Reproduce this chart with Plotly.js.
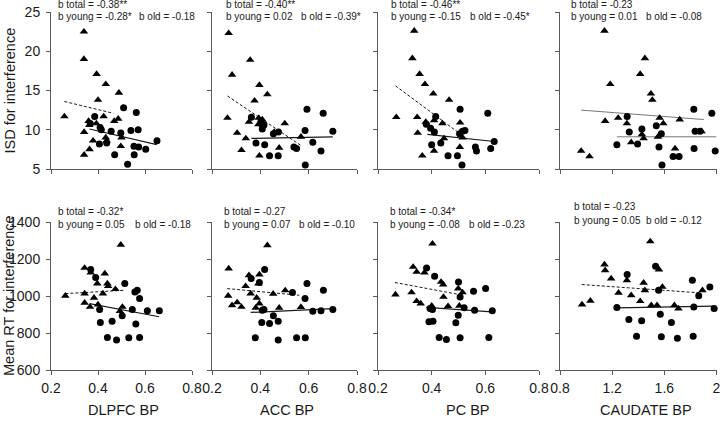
<!DOCTYPE html>
<html><head><meta charset="utf-8">
<script src="https://cdn.plot.ly/plotly-3.0.1.min.js"></script>
<style>html,body{margin:0;padding:0;background:#fff}</style>
</head><body><div id="chart" style="width:720px;height:430px"></div>
<script>
// ---------- categories / tick labels ----------
const regionLabels = ['DLPFC BP', 'ACC BP', 'PC BP', 'CAUDATE BP'];
const xRanges = [[0.2, 0.8], [0.2, 0.8], [0.2, 0.8], [0.8, 2.0]];
const xTickVals = [[0.2, 0.4, 0.6, 0.8], [0.2, 0.4, 0.6, 0.8], [0.2, 0.4, 0.6, 0.8], [0.8, 1.2, 1.6, 2.0]];
const xTickText = [['0.2', '0.4', '0.6', '0.8'], ['0.2', '0.4', '0.6', '0.8'], ['0.2', '0.4', '0.6', '0.8'], ['0.8', '1.2', '1.6', '2']];
const isdTicks = [5, 10, 15, 20, 25];
const rtTicks = [600, 800, 1000, 1200, 1400];
const rowTitles = ['ISD for interference', 'Mean RT for interference'];

// ---------- regression statistics ----------
const isdBTotal = ['-0.38**', '-0.40**', '-0.46**', '-0.23'];
const isdBYoung = ['-0.28*', '0.02', '-0.15', '0.01'];
const isdBOld = ['-0.18', '-0.39*', '-0.45*', '-0.08'];
const rtBTotal = ['-0.32*', '-0.27', '-0.34*', '-0.23'];
const rtBYoung = ['0.05', '0.07', '-0.08', '0.05'];
const rtBOld = ['-0.18', '-0.10', '-0.23', '-0.12'];

// ---------- ISD: DLPFC ----------
const isdDlpfcYoungX = [0.34, 0.34, 0.394, 0.433, 0.40, 0.489, 0.257, 0.424, 0.486, 0.36, 0.469, 0.393, 0.363, 0.341, 0.50, 0.379, 0.433, 0.437, 0.497, 0.364, 0.341];
const isdDlpfcYoungY = [22.5, 19.0, 17.1, 15.8, 13.8, 14.7, 11.7, 11.7, 11.4, 11.1, 11.1, 10.8, 10.6, 9.7, 9.0, 8.6, 9.0, 8.6, 7.9, 7.5, 6.8];
const isdDlpfcOldX = [0.386, 0.367, 0.409, 0.414, 0.456, 0.437, 0.406, 0.509, 0.563, 0.497, 0.54, 0.571, 0.553, 0.573, 0.554, 0.603, 0.651, 0.471, 0.526];
const isdDlpfcOldY = [11.7, 10.8, 10.3, 10.0, 9.8, 8.3, 8.2, 12.8, 12.2, 9.6, 9.9, 10.0, 7.9, 7.8, 6.8, 7.5, 8.6, 6.8, 5.6];
const isdDlpfcFitYoungX = [0.257, 0.465]; const isdDlpfcFitYoungY = [13.6, 12.1];
const isdDlpfcFitOldX = [0.364, 0.65]; const isdDlpfcFitOldY = [10.1, 8.1];

// ---------- ISD: ACC ----------
const isdAccYoungX = [0.269, 0.358, 0.283, 0.396, 0.429, 0.376, 0.264, 0.393, 0.408, 0.353, 0.392, 0.501, 0.304, 0.340, 0.322, 0.396, 0.478, 0.568, 0.41, 0.457];
const isdAccYoungY = [22.3, 18.9, 17.0, 15.7, 14.5, 13.7, 11.5, 11.5, 11.3, 11.0, 10.7, 10.8, 9.6, 8.9, 7.4, 6.7, 7.7, 9.1, 10.6, 9.7];
const isdAccOldX = [0.363, 0.403, 0.415, 0.408, 0.454, 0.475, 0.382, 0.418, 0.438, 0.474, 0.539, 0.55, 0.593, 0.585, 0.617, 0.66, 0.70, 0.651, 0.586];
const isdAccOldY = [11.6, 11.1, 10.6, 10.1, 9.5, 9.7, 8.3, 8.1, 6.7, 6.7, 7.8, 7.6, 12.6, 9.9, 8.4, 12.1, 9.8, 7.3, 5.5];
const isdAccFitYoungX = [0.264, 0.568]; const isdAccFitYoungY = [14.3, 8.0];
const isdAccFitOldX = [0.363, 0.70]; const isdAccFitOldY = [8.9, 9.1];

// ---------- ISD: PC ----------
const isdPcYoungX = [0.335, 0.328, 0.355, 0.375, 0.406, 0.465, 0.268, 0.346, 0.409, 0.378, 0.44, 0.506, 0.348, 0.446, 0.515, 0.505, 0.409, 0.365];
const isdPcYoungY = [22.6, 19.1, 17.1, 15.8, 14.6, 13.8, 11.6, 11.6, 11.2, 11.0, 10.8, 10.9, 9.6, 8.9, 9.0, 7.8, 7.3, 6.7];
const isdPcOldX = [0.415, 0.38, 0.396, 0.41, 0.506, 0.609, 0.524, 0.515, 0.504, 0.434, 0.40, 0.461, 0.496, 0.513, 0.563, 0.567, 0.62, 0.633];
const isdPcOldY = [11.7, 10.7, 10.2, 9.7, 12.6, 12.1, 9.9, 9.8, 9.5, 8.3, 8.1, 6.7, 6.7, 5.5, 7.8, 7.3, 7.6, 8.5];
const isdPcFitYoungX = [0.265, 0.509]; const isdPcFitYoungY = [15.6, 9.4];
const isdPcFitOldX = [0.384, 0.633]; const isdPcFitOldY = [9.4, 8.5];

// ---------- ISD: CAUDATE ----------
const isdCauYoungX = [1.141, 1.451, 1.415, 1.185, 1.497, 1.508, 1.146, 1.246, 1.313, 1.564, 1.592, 1.718, 1.428, 1.551, 1.441, 1.346, 1.682, 0.962, 1.026, 1.885];
const isdCauYoungY = [22.6, 19.1, 17.1, 15.8, 14.6, 13.8, 11.1, 11.5, 10.8, 11.5, 10.8, 11.3, 9.4, 9.1, 8.9, 8.4, 7.6, 7.3, 6.6, 9.8];
const isdCauOldX = [1.315, 1.331, 1.428, 1.538, 1.577, 1.236, 1.395, 1.559, 1.582, 1.667, 1.713, 1.826, 1.964, 1.836, 1.874, 1.828, 1.99];
const isdCauOldY = [11.7, 9.7, 10.1, 10.5, 9.5, 8.1, 8.2, 7.8, 5.5, 6.6, 6.6, 12.6, 12.1, 9.8, 9.8, 7.6, 7.3];
const isdCauFitYoungX = [0.962, 1.903]; const isdCauFitYoungY = [12.5, 11.3];
const isdCauFitOldX = [1.236, 2.0]; const isdCauFitOldY = [9.1, 9.1];

// ---------- RT: DLPFC ----------
const rtDlpfcYoungX = [0.497, 0.343, 0.369, 0.429, 0.397, 0.44, 0.443, 0.474, 0.261, 0.343, 0.421, 0.383, 0.343, 0.366, 0.40, 0.493, 0.504];
const rtDlpfcYoungY = [1277, 1152, 1127, 1121, 1067, 1067, 1053, 1037, 1001, 1013, 1013, 990, 963, 941, 954, 918, 941];
const rtDlpfcOldX = [0.369, 0.39, 0.514, 0.567, 0.557, 0.577, 0.407, 0.546, 0.61, 0.661, 0.503, 0.41, 0.46, 0.561, 0.44, 0.479, 0.531, 0.577];
const rtDlpfcOldY = [1143, 1100, 1067, 1031, 1022, 986, 927, 927, 920, 920, 893, 857, 864, 848, 776, 762, 774, 776];
const rtDlpfcFitYoungX = [0.261, 0.514]; const rtDlpfcFitYoungY = [1013, 1031];
const rtDlpfcFitOldX = [0.364, 0.66]; const rtDlpfcFitOldY = [959, 888];

// ---------- RT: ACC ----------
const rtAccYoungX = [0.429, 0.269, 0.353, 0.396, 0.392, 0.339, 0.267, 0.36, 0.385, 0.453, 0.503, 0.283, 0.304, 0.322, 0.381, 0.396, 0.478, 0.568];
const rtAccYoungY = [1274, 1148, 1112, 1116, 1067, 1053, 1001, 1013, 990, 1012, 1030, 950, 965, 941, 936, 959, 936, 940];
const rtAccOldX = [0.418, 0.362, 0.396, 0.593, 0.533, 0.585, 0.661, 0.408, 0.415, 0.617, 0.651, 0.70, 0.454, 0.406, 0.438, 0.474, 0.379, 0.474, 0.55, 0.586];
const rtAccOldY = [1143, 1094, 1073, 1067, 1019, 986, 1031, 923, 927, 918, 920, 927, 893, 857, 852, 864, 774, 762, 774, 774];
const rtAccFitYoungX = [0.263, 0.561]; const rtAccFitYoungY = [1040, 1004];
const rtAccFitOldX = [0.36, 0.70]; const rtAccFitOldY = [911, 932];

// ---------- RT: PC ----------
const rtPcYoungX = [0.403, 0.331, 0.344, 0.373, 0.435, 0.443, 0.499, 0.515, 0.265, 0.325, 0.444, 0.344, 0.359, 0.40, 0.461, 0.503];
const rtPcYoungY = [1283, 1157, 1130, 1127, 1076, 1062, 1040, 1019, 1008, 1019, 995, 972, 959, 947, 945, 947];
const rtPcOldX = [0.381, 0.411, 0.50, 0.556, 0.601, 0.506, 0.394, 0.403, 0.521, 0.56, 0.626, 0.499, 0.39, 0.405, 0.49, 0.428, 0.455, 0.506, 0.613];
const rtPcOldY = [1152, 1107, 1076, 1026, 1040, 994, 932, 927, 936, 923, 920, 896, 861, 864, 855, 776, 765, 774, 776];
const rtPcFitYoungX = [0.263, 0.503]; const rtPcFitYoungY = [1073, 1008];
const rtPcFitOldX = [0.38, 0.625]; const rtPcFitOldY = [938, 914];

// ---------- RT: CAUDATE ----------
const rtCauYoungX = [1.492, 1.141, 1.146, 1.192, 1.313, 1.441, 1.559, 1.585, 1.451, 1.249, 1.346, 1.892, 0.969, 1.033, 1.415, 1.5, 1.544, 1.677, 1.708];
const rtCauYoungY = [1295, 1170, 1139, 1094, 1085, 1071, 1143, 1049, 1031, 1017, 1004, 1031, 954, 974, 972, 950, 950, 950, 932];
const rtCauOldX = [1.533, 1.315, 1.556, 1.815, 1.949, 1.864, 1.236, 1.826, 1.982, 1.569, 1.328, 1.426, 1.654, 1.387, 1.577, 1.700, 1.821];
const rtCauOldY = [1161, 1116, 1031, 1085, 1049, 1001, 938, 941, 932, 902, 873, 866, 857, 783, 780, 771, 783];
const rtCauFitYoungX = [0.967, 1.872]; const rtCauFitYoungY = [1062, 1017];
const rtCauFitOldX = [1.231, 1.982]; const rtCauFitOldY = [936, 945];

// ---------- assemble ----------
const panels = [
  {yx: isdDlpfcYoungX, yy: isdDlpfcYoungY, ox: isdDlpfcOldX, oy: isdDlpfcOldY, fyx: isdDlpfcFitYoungX, fyy: isdDlpfcFitYoungY, fox: isdDlpfcFitOldX, foy: isdDlpfcFitOldY},
  {yx: isdAccYoungX, yy: isdAccYoungY, ox: isdAccOldX, oy: isdAccOldY, fyx: isdAccFitYoungX, fyy: isdAccFitYoungY, fox: isdAccFitOldX, foy: isdAccFitOldY},
  {yx: isdPcYoungX, yy: isdPcYoungY, ox: isdPcOldX, oy: isdPcOldY, fyx: isdPcFitYoungX, fyy: isdPcFitYoungY, fox: isdPcFitOldX, foy: isdPcFitOldY},
  {yx: isdCauYoungX, yy: isdCauYoungY, ox: isdCauOldX, oy: isdCauOldY, fyx: isdCauFitYoungX, fyy: isdCauFitYoungY, fox: isdCauFitOldX, foy: isdCauFitOldY},
  {yx: rtDlpfcYoungX, yy: rtDlpfcYoungY, ox: rtDlpfcOldX, oy: rtDlpfcOldY, fyx: rtDlpfcFitYoungX, fyy: rtDlpfcFitYoungY, fox: rtDlpfcFitOldX, foy: rtDlpfcFitOldY},
  {yx: rtAccYoungX, yy: rtAccYoungY, ox: rtAccOldX, oy: rtAccOldY, fyx: rtAccFitYoungX, fyy: rtAccFitYoungY, fox: rtAccFitOldX, foy: rtAccFitOldY},
  {yx: rtPcYoungX, yy: rtPcYoungY, ox: rtPcOldX, oy: rtPcOldY, fyx: rtPcFitYoungX, fyy: rtPcFitYoungY, fox: rtPcFitOldX, foy: rtPcFitOldY},
  {yx: rtCauYoungX, yy: rtCauYoungY, ox: rtCauOldX, oy: rtCauOldY, fyx: rtCauFitYoungX, fyy: rtCauFitYoungY, fox: rtCauFitOldX, foy: rtCauFitOldY}
];

const W = 720, H = 430;
const colPx = [[51, 192], [212, 357], [378, 539], [560, 716.5]];
const rowPx = [[12, 169], [222, 370]];
const FONT = 'Arial, "Liberation Sans", sans-serif';
const AXC = '#5a5a5a';

const traces = [];
const layout = {
  width: W, height: H, margin: {l: 0, r: 0, t: 0, b: 0},
  paper_bgcolor: '#fff', plot_bgcolor: '#fff', showlegend: false, hovermode: false,
  font: {family: FONT, size: 14, color: '#1a1a1a'},
  annotations: []
};

panels.forEach((p, i) => {
  const row = Math.floor(i / 4), col = i % 4, n = i + 1;
  const xa = 'x' + (n === 1 ? '' : n), ya = 'y' + (n === 1 ? '' : n);
  const caudTop = (row === 0 && col === 3);
  const fitColor = caudTop ? '#777' : '#1a1a1a';
  traces.push({x: p.fyx, y: p.fyy, xaxis: xa, yaxis: ya, mode: 'lines', type: 'scatter',
    line: {color: fitColor, width: 1, dash: caudTop ? 'solid' : '3px,2px'}, cliponaxis: false});
  traces.push({x: p.fox, y: p.foy, xaxis: xa, yaxis: ya, mode: 'lines', type: 'scatter',
    line: {color: fitColor, width: caudTop ? 1 : 1.2}, cliponaxis: false});
  traces.push({x: p.yx, y: p.yy, xaxis: xa, yaxis: ya, mode: 'markers', type: 'scatter', name: 'young',
    marker: {symbol: 'triangle-up', size: 7.5, color: '#000'}, cliponaxis: false});
  traces.push({x: p.ox, y: p.oy, xaxis: xa, yaxis: ya, mode: 'markers', type: 'scatter', name: 'old',
    marker: {symbol: 'circle', size: 7, color: '#000'}, cliponaxis: false});

  const axBase = {showgrid: false, zeroline: false, showline: true, linecolor: AXC, linewidth: 1,
    ticks: 'outside', ticklen: 4, tickcolor: AXC, tickwidth: 1, fixedrange: true,
    ticklabeloverflow: 'allow',
    tickfont: {family: FONT, size: 14, color: '#1a1a1a'}};
  layout['xaxis' + (n === 1 ? '' : n)] = Object.assign({}, axBase, {
    domain: [colPx[col][0] / W, colPx[col][1] / W], anchor: ya, range: xRanges[col],
    tickmode: 'array', tickvals: xTickVals[col], ticktext: xTickText[col],
    showticklabels: row === 1, ticklabelstandoff: 1
  });
  layout['yaxis' + (n === 1 ? '' : n)] = Object.assign({}, axBase, {
    domain: [1 - rowPx[row][1] / H, 1 - rowPx[row][0] / H], anchor: xa,
    range: row === 0 ? [5, 25] : [600, 1400],
    tickmode: 'array', tickvals: row === 0 ? isdTicks : rtTicks,
    showticklabels: col === 0, ticklabelstandoff: 3
  });
});

// statistic annotations
const ann = (txt, px, py, size, extra) => Object.assign({
  text: txt, xref: 'paper', yref: 'paper', x: px / W, y: 1 - py / H,
  xanchor: 'left', yanchor: 'middle', showarrow: false,
  font: {family: FONT, size: size || 10, color: '#1a1a1a'}
}, extra || {});

const topTotalX = [56, 224, 389, 569], topOldX = [137, 299, 468, 644];
const botYoungX = [56, 222, 388, 572], botOldX = [133, 297, 467, 644];
const botTotalY = [211, 211, 211, 206], botYoungY = [224.5, 224.5, 224.5, 220];
for (let c = 0; c < 4; c++) {
  layout.annotations.push(ann('b total = ' + isdBTotal[c], topTotalX[c], 4.5));
  layout.annotations.push(ann('b young = ' + isdBYoung[c], topTotalX[c], 16.5));
  layout.annotations.push(ann('b old = ' + isdBOld[c], topOldX[c], 16.5));
  layout.annotations.push(ann('b total = ' + rtBTotal[c], botYoungX[c], botTotalY[c]));
  layout.annotations.push(ann('b young = ' + rtBYoung[c], botYoungX[c], botYoungY[c]));
  layout.annotations.push(ann('b old = ' + rtBOld[c], botOldX[c], botYoungY[c]));
}
// axis titles
const xTitleCx = [123, 287, 468, 646];
for (let c = 0; c < 4; c++) {
  layout.annotations.push(ann(regionLabels[c], xTitleCx[c], 410, 14.5, {xanchor: 'center'}));
}
layout.annotations.push(ann(rowTitles[0], 9, 90.5, 14.5, {xanchor: 'center', textangle: -90}));
layout.annotations.push(ann(rowTitles[1], 9, 296, 14.5, {xanchor: 'center', textangle: -90}));

Plotly.newPlot('chart', traces, layout, {staticPlot: true, displayModeBar: false});
</script></body></html>
